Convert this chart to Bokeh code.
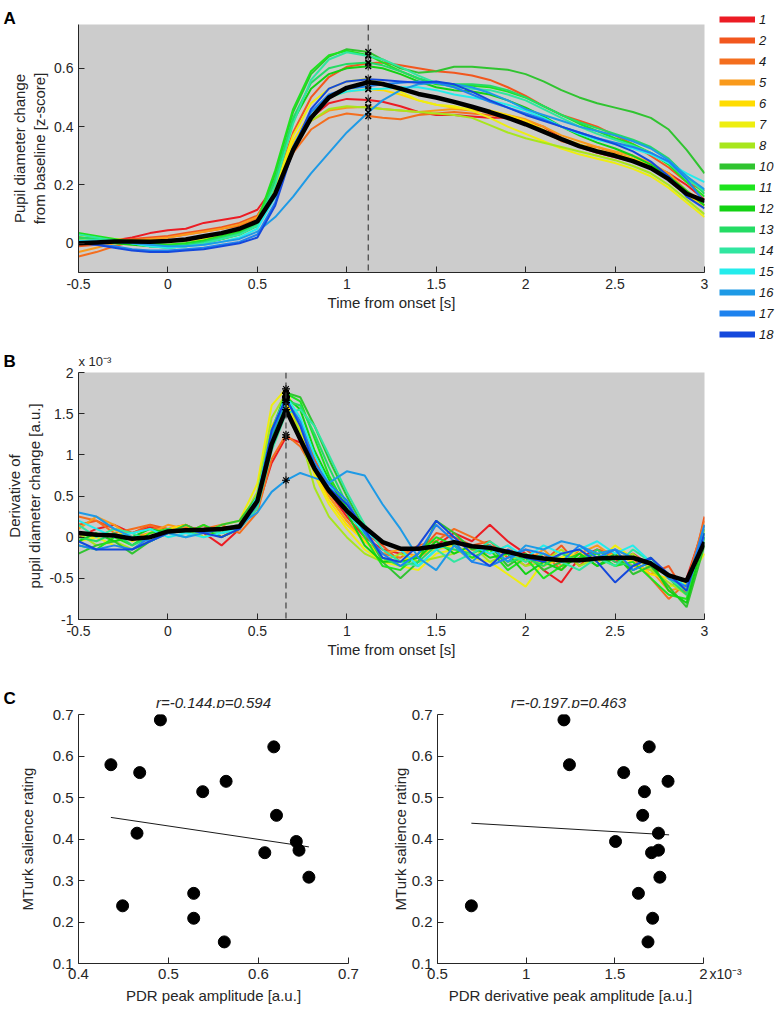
from bokeh.plotting import figure
from bokeh.layouts import column, row
from bokeh.models import (Range1d, FixedTicker, CustomJSTickFormatter, Span, Label,
                          Legend, LegendItem)
from bokeh.embed import file_html
from bokeh.resources import INLINE

FONT = "Liberation Sans"
AXIS = "#262626"

# ---------------- data ----------------
subject_ids = ["1", "2", "4", "5", "6", "7", "8", "10", "11", "12", "13", "14", "15", "16", "17", "18"]
subject_colors = ["#ec1c24", "#f2571e", "#f46e1e", "#f99a1c", "#ffdc00", "#eeee10", "#a8e61c", "#30c430",
                  "#1ee41e", "#12d212", "#24dc64", "#30e6a0", "#24ecec", "#1e9ae6", "#1e82ee", "#1448dc"]

# Panel A: pupil diameter change (z-score)
t_a = [-0.5, -0.4, -0.3, -0.2, -0.1, 0.0, 0.1, 0.2, 0.3, 0.4, 0.5, 0.6, 0.7, 0.8, 0.9, 1.0, 1.12,
       1.2, 1.3, 1.4, 1.5, 1.6, 1.7, 1.8, 1.9, 2.0, 2.1, 2.2, 2.3, 2.4, 2.5, 2.6, 2.7, 2.8, 2.9, 3.0]
a01 = [0.02, 0.015, 0.01, 0.02, 0.035, 0.045, 0.05, 0.07, 0.08, 0.09, 0.115, 0.2, 0.33, 0.43, 0.48, 0.495, 0.491,
       0.485, 0.47, 0.45, 0.44, 0.44, 0.435, 0.43, 0.43, 0.42, 0.40, 0.36, 0.33, 0.31, 0.295, 0.28, 0.265, 0.24, 0.20, 0.15]
a02 = [-0.01, -0.005, 0.005, 0.015, 0.02, 0.025, 0.035, 0.045, 0.055, 0.07, 0.095, 0.2, 0.38, 0.5, 0.57, 0.605, 0.617,
       0.62, 0.61, 0.60, 0.59, 0.585, 0.575, 0.56, 0.535, 0.505, 0.47, 0.44, 0.42, 0.40, 0.37, 0.34, 0.30, 0.26, 0.21, 0.18]
a04 = [-0.045, -0.03, -0.01, 0.005, 0.015, 0.02, 0.03, 0.04, 0.05, 0.06, 0.085, 0.18, 0.31, 0.39, 0.43, 0.445, 0.436,
       0.43, 0.425, 0.44, 0.445, 0.45, 0.445, 0.44, 0.43, 0.41, 0.385, 0.35, 0.335, 0.33, 0.31, 0.29, 0.26, 0.22, 0.17, 0.13]
a05 = [-0.03, -0.015, 0.0, 0.01, 0.015, 0.02, 0.03, 0.04, 0.05, 0.065, 0.09, 0.2, 0.34, 0.42, 0.455, 0.465, 0.468,
       0.46, 0.455, 0.45, 0.455, 0.46, 0.455, 0.45, 0.44, 0.425, 0.40, 0.37, 0.35, 0.33, 0.315, 0.30, 0.275, 0.24, 0.18, 0.14]
a06 = [0.015, 0.015, 0.01, 0.01, 0.01, 0.01, 0.015, 0.025, 0.035, 0.05, 0.075, 0.18, 0.35, 0.45, 0.5, 0.52, 0.528,
       0.525, 0.51, 0.49, 0.475, 0.465, 0.46, 0.455, 0.44, 0.42, 0.39, 0.36, 0.34, 0.32, 0.305, 0.29, 0.265, 0.23, 0.17, 0.12]
a07 = [0.02, 0.02, 0.015, 0.01, 0.005, 0.005, 0.01, 0.015, 0.025, 0.04, 0.065, 0.19, 0.37, 0.48, 0.53, 0.555, 0.564,
       0.55, 0.52, 0.49, 0.475, 0.47, 0.455, 0.43, 0.40, 0.375, 0.35, 0.325, 0.305, 0.29, 0.275, 0.255, 0.23, 0.19, 0.14, 0.09]
a08 = [0.01, 0.01, 0.005, 0.0, -0.005, -0.005, 0.0, 0.01, 0.02, 0.035, 0.06, 0.17, 0.33, 0.42, 0.46, 0.47, 0.465,
       0.46, 0.455, 0.45, 0.445, 0.44, 0.43, 0.405, 0.38, 0.36, 0.345, 0.33, 0.315, 0.30, 0.285, 0.265, 0.24, 0.20, 0.15, 0.10]
a10 = [0.02, 0.015, 0.01, 0.0, -0.01, -0.015, -0.01, 0.0, 0.015, 0.035, 0.07, 0.24, 0.45, 0.58, 0.64, 0.665, 0.656,
       0.63, 0.60, 0.585, 0.59, 0.605, 0.605, 0.60, 0.595, 0.58, 0.555, 0.525, 0.50, 0.48, 0.465, 0.45, 0.43, 0.39, 0.32, 0.24]
a11 = [0.035, 0.025, 0.015, 0.005, 0.0, -0.005, 0.0, 0.01, 0.025, 0.04, 0.075, 0.25, 0.46, 0.59, 0.645, 0.66, 0.645,
       0.62, 0.59, 0.565, 0.545, 0.54, 0.54, 0.535, 0.52, 0.50, 0.47, 0.44, 0.41, 0.385, 0.36, 0.34, 0.31, 0.27, 0.21, 0.16]
a12 = [0.01, 0.005, 0.0, -0.005, -0.01, -0.01, -0.005, 0.005, 0.015, 0.03, 0.06, 0.22, 0.42, 0.53, 0.58, 0.60, 0.607,
       0.60, 0.58, 0.555, 0.535, 0.525, 0.52, 0.51, 0.49, 0.465, 0.435, 0.40, 0.37, 0.345, 0.325, 0.30, 0.27, 0.23, 0.18, 0.13]
a13 = [0.02, 0.015, 0.005, 0.0, -0.01, -0.01, -0.005, 0.005, 0.02, 0.035, 0.065, 0.22, 0.43, 0.55, 0.6, 0.615, 0.620,
       0.61, 0.59, 0.565, 0.55, 0.545, 0.545, 0.54, 0.525, 0.50, 0.47, 0.44, 0.415, 0.395, 0.375, 0.355, 0.33, 0.29, 0.23, 0.17]
a14 = [0.03, 0.02, 0.01, 0.0, -0.01, -0.015, -0.01, 0.0, 0.015, 0.03, 0.06, 0.2, 0.41, 0.56, 0.63, 0.655, 0.642,
       0.63, 0.605, 0.575, 0.55, 0.535, 0.53, 0.525, 0.51, 0.49, 0.46, 0.43, 0.40, 0.375, 0.355, 0.335, 0.31, 0.275, 0.22, 0.18]
a15 = [0.01, 0.01, 0.005, 0.0, -0.01, -0.015, -0.01, -0.005, 0.005, 0.02, 0.05, 0.16, 0.33, 0.45, 0.5, 0.52, 0.528,
       0.53, 0.535, 0.535, 0.525, 0.51, 0.50, 0.49, 0.475, 0.455, 0.43, 0.40, 0.375, 0.355, 0.34, 0.325, 0.305, 0.275, 0.24, 0.21]
a16 = [0.005, 0.005, 0.005, 0.0, -0.005, -0.01, -0.01, -0.005, 0.005, 0.015, 0.04, 0.09, 0.16, 0.24, 0.31, 0.38, 0.449,
       0.49, 0.525, 0.545, 0.55, 0.545, 0.535, 0.515, 0.49, 0.46, 0.44, 0.42, 0.40, 0.385, 0.37, 0.35, 0.325, 0.285, 0.23, 0.185]
a17 = [0.0, -0.005, -0.01, -0.02, -0.025, -0.025, -0.02, -0.015, -0.005, 0.005, 0.03, 0.14, 0.33, 0.45, 0.51, 0.53, 0.538,
       0.545, 0.55, 0.555, 0.55, 0.535, 0.51, 0.485, 0.465, 0.445, 0.425, 0.40, 0.38, 0.36, 0.345, 0.33, 0.31, 0.28, 0.22, 0.14]
a18 = [0.0, -0.005, -0.015, -0.025, -0.03, -0.03, -0.025, -0.02, -0.01, 0.0, 0.02, 0.13, 0.32, 0.46, 0.53, 0.555, 0.562,
       0.56, 0.555, 0.55, 0.555, 0.545, 0.52, 0.49, 0.465, 0.44, 0.42, 0.40, 0.38, 0.36, 0.34, 0.315, 0.28, 0.23, 0.16, 0.12]
mean_a = [0.0, 0.003, 0.006, 0.006, 0.005, 0.008, 0.013, 0.024, 0.035, 0.05, 0.075, 0.17, 0.32, 0.43, 0.50, 0.533, 0.552,
          0.546, 0.53, 0.512, 0.50, 0.485, 0.468, 0.45, 0.43, 0.408, 0.383, 0.357, 0.333, 0.315, 0.30, 0.282, 0.258, 0.22, 0.17, 0.145]
curves_a = [a01, a02, a04, a05, a06, a07, a08, a10, a11, a12, a13, a14, a15, a16, a17, a18]
t_peak_a = 1.12
pdr_peak = [0.491, 0.617, 0.436, 0.468, 0.528, 0.564, 0.465, 0.656, 0.645, 0.607, 0.620, 0.642, 0.528, 0.449, 0.538, 0.562]

# Panel B: derivative of pupil diameter change (x 10^-3 a.u.)
t_b = [-0.5, -0.4, -0.3, -0.2, -0.1, 0.0, 0.1, 0.2, 0.3, 0.4, 0.5, 0.58, 0.66, 0.74, 0.82,
       0.9, 1.0, 1.1, 1.2, 1.3, 1.4, 1.5, 1.6, 1.7, 1.8, 1.9, 2.0, 2.1, 2.2, 2.3, 2.4, 2.5, 2.6, 2.7, 2.8, 2.9, 3.0]
b01 = [0.0, 0.1, 0.15, 0.05, 0.12, 0.1, 0.15, 0.05, -0.1, 0.1, 0.35, 0.9, 1.213, 1.15, 0.85,
       0.55, 0.25, 0.0, -0.15, -0.2, -0.15, -0.1, 0.05, -0.05, 0.15, -0.05, -0.2, -0.4, -0.55, -0.25, -0.15, -0.3, -0.2, -0.35, -0.6, -0.5, 0.15]
b02 = [0.15, 0.2, 0.1, 0.05, 0.15, 0.1, 0.05, 0.15, 0.0, 0.12, 0.4, 1.25, 1.694, 1.4, 0.95,
       0.6, 0.3, 0.05, -0.1, -0.3, -0.2, 0.05, 0.0, -0.1, -0.05, -0.25, -0.15, -0.3, -0.1, -0.35, -0.15, -0.2, -0.3, -0.45, -0.35, -0.7, 0.25]
b04 = [0.25, 0.2, 0.05, 0.1, 0.15, 0.05, 0.12, 0.1, 0.15, 0.05, 0.3, 0.95, 1.244, 1.1, 0.8,
       0.5, 0.2, -0.05, -0.2, -0.25, -0.1, -0.05, 0.1, 0.0, -0.1, -0.2, -0.35, -0.2, -0.4, -0.15, -0.3, -0.15, -0.25, -0.5, -0.75, -0.55, 0.2]
b05 = [0.1, 0.25, 0.15, 0.0, 0.05, 0.15, 0.1, 0.05, 0.1, 0.15, 0.45, 1.2, 1.55, 1.3, 0.85,
       0.5, 0.2, -0.05, -0.2, -0.15, -0.25, -0.1, -0.05, -0.15, -0.2, -0.1, -0.3, -0.15, -0.35, -0.2, -0.1, -0.25, -0.35, -0.4, -0.65, -0.6, 0.1]
b06 = [0.05, 0.0, 0.1, -0.05, 0.05, 0.1, 0.15, 0.0, 0.1, 0.1, 0.5, 1.35, 1.633, 1.3, 0.8,
       0.45, 0.15, -0.05, -0.25, -0.3, -0.2, -0.15, -0.1, -0.2, -0.1, -0.3, -0.2, -0.35, -0.25, -0.2, -0.3, -0.2, -0.3, -0.45, -0.5, -0.65, -0.05]
b07 = [-0.05, 0.0, -0.1, -0.15, 0.0, 0.05, 0.1, 0.05, 0.15, 0.2, 0.65, 1.6, 1.8, 1.35, 0.75,
       0.4, 0.1, -0.15, -0.3, -0.35, -0.4, -0.2, -0.15, -0.25, -0.3, -0.45, -0.6, -0.3, -0.25, -0.15, -0.3, -0.1, -0.25, -0.35, -0.6, -0.55, -0.2]
b08 = [0.05, -0.1, -0.05, -0.15, -0.05, 0.05, 0.1, 0.0, 0.1, 0.15, 0.55, 1.45, 1.746, 1.25, 0.6,
       0.25, 0.0, -0.2, -0.3, -0.2, -0.3, -0.25, -0.2, -0.1, -0.3, -0.2, -0.35, -0.3, -0.15, -0.35, -0.25, -0.35, -0.2, -0.4, -0.55, -0.7, 0.0]
b10 = [-0.2, -0.1, -0.05, -0.2, -0.05, 0.05, 0.15, 0.05, 0.15, 0.2, 0.5, 1.3, 1.754, 1.7, 1.35,
       0.95, 0.5, 0.1, -0.3, -0.5, -0.3, 0.2, 0.05, -0.15, -0.1, -0.35, -0.2, -0.4, -0.3, -0.2, -0.35, -0.2, -0.45, -0.35, -0.6, -0.85, -0.1]
b11 = [-0.1, -0.15, 0.0, -0.1, 0.05, 0.1, 0.05, 0.15, 0.05, 0.15, 0.45, 1.25, 1.746, 1.65, 1.2,
       0.75, 0.35, 0.0, -0.35, -0.4, -0.2, 0.0, -0.1, -0.25, -0.15, -0.4, -0.25, -0.5, -0.35, -0.25, -0.2, -0.35, -0.3, -0.5, -0.7, -0.75, 0.05]
b12 = [-0.05, 0.05, -0.05, 0.0, 0.1, 0.05, 0.1, 0.1, 0.0, 0.1, 0.4, 1.2, 1.707, 1.55, 1.05,
       0.7, 0.3, -0.1, -0.3, -0.3, -0.25, -0.05, -0.2, -0.1, -0.25, -0.2, -0.45, -0.3, -0.4, -0.2, -0.35, -0.25, -0.4, -0.3, -0.65, -0.8, 0.0]
b13 = [0.0, -0.05, 0.05, -0.1, 0.0, 0.1, 0.05, 0.1, 0.05, 0.12, 0.4, 1.15, 1.657, 1.6, 1.25,
       0.85, 0.4, 0.05, -0.25, -0.35, -0.3, -0.1, -0.15, -0.2, -0.1, -0.3, -0.25, -0.35, -0.2, -0.3, -0.15, -0.3, -0.35, -0.25, -0.5, -0.7, 0.1]
b14 = [0.15, 0.0, 0.1, 0.05, -0.05, 0.05, 0.0, 0.1, 0.05, 0.1, 0.35, 1.05, 1.504, 1.55, 1.35,
       1.0, 0.55, 0.15, -0.15, -0.3, -0.35, -0.15, -0.3, -0.2, -0.05, -0.2, -0.3, -0.2, -0.3, -0.4, -0.25, -0.35, -0.15, -0.3, -0.5, -0.65, 0.15]
b15 = [0.2, 0.1, 0.0, 0.05, 0.1, 0.0, 0.05, 0.0, 0.05, 0.1, 0.5, 1.3, 1.713, 1.45, 1.0,
       0.65, 0.3, 0.05, -0.05, -0.15, -0.35, -0.15, -0.05, -0.1, -0.2, -0.1, -0.25, -0.1, -0.2, -0.15, -0.05, -0.2, -0.1, -0.3, -0.45, -0.6, -0.05]
b16 = [0.3, 0.25, 0.1, 0.0, -0.05, 0.05, 0.0, 0.05, 0.1, 0.15, 0.3, 0.55, 0.691, 0.78, 0.72,
       0.66, 0.8, 0.75, 0.4, 0.1, -0.25, -0.4, -0.1, -0.3, -0.1, -0.3, -0.1, -0.15, -0.05, -0.1, -0.2, -0.15, -0.25, -0.3, -0.45, -0.55, 0.0]
b17 = [-0.1, -0.15, -0.1, -0.15, 0.0, 0.05, 0.1, 0.05, 0.1, 0.1, 0.4, 1.25, 1.667, 1.4, 0.9,
       0.65, 0.45, 0.05, -0.2, -0.35, -0.2, 0.15, -0.05, -0.3, -0.35, -0.25, -0.15, -0.2, -0.3, -0.1, -0.25, -0.15, -0.4, -0.3, -0.5, -0.6, 0.15]
b18 = [-0.05, -0.15, -0.15, -0.15, -0.05, 0.05, 0.1, 0.05, 0.0, 0.1, 0.45, 1.3, 1.687, 1.35, 0.85,
       0.6, 0.4, 0.1, -0.25, -0.3, -0.1, 0.2, 0.0, -0.2, -0.35, -0.15, -0.25, -0.3, -0.2, -0.15, -0.3, -0.55, -0.35, -0.25, -0.45, -0.65, 0.05]
mean_b = [0.05, 0.03, 0.02, -0.02, 0.0, 0.07, 0.085, 0.09, 0.10, 0.13, 0.44, 1.13, 1.55, 1.19, 0.83,
          0.565, 0.32, 0.12, -0.06, -0.14, -0.14, -0.11, -0.06, -0.11, -0.13, -0.18, -0.23, -0.26, -0.28, -0.28, -0.26, -0.25, -0.25, -0.32, -0.465, -0.53, -0.06]
curves_b = [b01, b02, b04, b05, b06, b07, b08, b10, b11, b12, b13, b14, b15, b16, b17, b18]
t_peak_b = 0.66
pdr_deriv_peak = [1.213, 1.694, 1.244, 1.550, 1.633, 1.800, 1.746, 1.754, 1.746, 1.707, 1.657, 1.504, 1.713, 0.691, 1.667, 1.687]

# Panel C: salience ratings and fitted lines
salience = [0.687, 0.622, 0.579, 0.560, 0.269, 0.539, 0.414, 0.308, 0.373, 0.367, 0.457, 0.394, 0.209, 0.239, 0.514, 0.152]
fit_left_x = [0.436, 0.656]
fit_left_y = [0.452, 0.381]
fit_right_x = [0.691, 1.806]
fit_right_y = [0.438, 0.410]
title_left = "r=-0.144,p=0.594"
title_right = "r=-0.197,p=0.463"

assert all(len(c) == len(t_a) for c in curves_a + [mean_a])
assert all(len(c) == len(t_b) for c in curves_b + [mean_b])

# ---------------- helpers ----------------
FMT = "return tick.toString();"


def style(p, bg, tick_size, xstand=(6, 2)):
    p.background_fill_color = bg
    p.border_fill_color = "white"
    p.outline_line_color = None
    p.xgrid.visible = False
    p.ygrid.visible = False
    for ax in (p.xaxis[0], p.yaxis[0]):
        ax.axis_line_color = AXIS
        ax.axis_line_width = 1
        ax.major_tick_line_color = AXIS
        ax.major_tick_in = 6
        ax.major_tick_out = 0
        ax.minor_tick_line_color = None
        ax.major_label_text_font = FONT
        ax.major_label_text_font_size = tick_size
        ax.major_label_text_color = AXIS
        ax.axis_label_text_font = FONT
        ax.axis_label_text_font_style = "normal"
        ax.axis_label_text_font_size = "15px"
        ax.axis_label_text_color = AXIS
        ax.formatter = CustomJSTickFormatter(code=FMT)
    p.xaxis[0].major_label_standoff = xstand[0]
    p.xaxis[0].axis_label_standoff = xstand[1]
    p.yaxis[0].major_label_standoff = 5
    p.yaxis[0].axis_label_standoff = 3


def strip(w, h):
    s = figure(width=w, height=h, x_range=Range1d(0, w), y_range=Range1d(0, h),
               x_axis_type=None, y_axis_type=None, title=None, output_backend="svg",
               toolbar_location=None, min_border=0, frame_align=False)
    s.outline_line_color = None
    s.background_fill_color = "white"
    s.border_fill_color = "white"
    s.xgrid.visible = False
    s.ygrid.visible = False
    return s


def text(s, x, y, t, size, style_="normal", align="left", color=AXIS):
    s.add_layout(Label(x=x, y=y, text=t, text_font=FONT, text_font_style=style_,
                       text_font_size=size, text_color=color, text_align=align,
                       text_baseline="alphabetic"))


# ---------------- Panel A ----------------
stripA = strip(710, 24)
text(stripA, 3, 6, "A", "17px", "bold", color="black")

pA = figure(width=710, height=321, x_range=Range1d(-0.5, 3.0), y_range=Range1d(-0.1, 0.75),
            output_backend="svg", toolbar_location=None, title=None, frame_align=False,
            min_border_left=78, min_border_right=6, min_border_top=0, min_border_bottom=73)
style(pA, "#cccccc", "14px")
pA.xaxis.ticker = FixedTicker(ticks=[-0.5, 0, 0.5, 1, 1.5, 2, 2.5, 3])
pA.yaxis.ticker = FixedTicker(ticks=[0, 0.2, 0.4, 0.6])
pA.xaxis.axis_label = "Time from onset [s]"
pA.yaxis.axis_label = "Pupil diameter change\nfrom baseline [z-score]"
for ys, c in zip(curves_a, subject_colors):
    pA.line(t_a, ys, line_color=c, line_width=2)
pA.line(t_a, mean_a, line_color="black", line_width=4.5)
pA.add_layout(Span(location=t_peak_a, dimension="height", line_color="#404040",
                   line_dash="6 4", line_width=1.2))
pA.scatter([t_peak_a] * len(pdr_peak), pdr_peak, marker="x", size=8, line_color="black", line_width=1.4)

pLeg = figure(width=65, height=345, x_range=Range1d(0, 1), y_range=Range1d(0, 1),
              x_axis_type=None, y_axis_type=None, title=None, output_backend="svg",
              toolbar_location=None, min_border=0, frame_align=False)
pLeg.outline_line_color = None
pLeg.xgrid.visible = False
pLeg.ygrid.visible = False
items = []
for s, c in zip(subject_ids, subject_colors):
    # swatch-only renderers: their points lie outside the visible range
    r = pLeg.line(x=[-10, -9], y=[-10, -9], line_color=c, line_width=6)
    items.append(LegendItem(label=s, renderers=[r]))
legend = Legend(items=items, location=(9, 3), orientation="vertical", glyph_width=36,
                glyph_height=16, label_height=16, spacing=5, padding=0, margin=0, label_standoff=4,
                border_line_color=None, background_fill_alpha=0, label_text_font=FONT,
                label_text_font_style="italic", label_text_font_size="13px", label_text_color="#1a1a1a")
pLeg.add_layout(legend)

# ---------------- Panel B ----------------
stripB = strip(775, 22)
text(stripB, 3, 6, "B", "17px", "bold", color="black")
text(stripB, 78, 6, "x 10\u207b\u00b3", "13px")

pB = figure(width=775, height=313, x_range=Range1d(-0.5, 3.0), y_range=Range1d(-1.0, 2.0),
            output_backend="svg", toolbar_location=None, title=None, frame_align=False,
            min_border_left=78, min_border_right=71, min_border_top=5, min_border_bottom=61)
style(pB, "#cccccc", "14px")
pB.xaxis.ticker = FixedTicker(ticks=[-0.5, 0, 0.5, 1, 1.5, 2, 2.5, 3])
pB.yaxis.ticker = FixedTicker(ticks=[-1, -0.5, 0, 0.5, 1, 1.5, 2])
pB.xaxis.axis_label = "Time from onset [s]"
pB.yaxis.axis_label = "Derivative of\npupil diameter change [a.u.]"
for ys, c in zip(curves_b, subject_colors):
    pB.line(t_b, ys, line_color=c, line_width=2)
pB.line(t_b, mean_b, line_color="black", line_width=4.5)
pB.add_layout(Span(location=t_peak_b, dimension="height", line_color="#404040",
                   line_dash="6 4", line_width=1.2))
pB.scatter([t_peak_b] * len(pdr_deriv_peak), pdr_deriv_peak, marker="asterisk", size=8,
           line_color="black", line_width=1.2)

# ---------------- Panel C ----------------
stripC = strip(775, 28)
text(stripC, 3, 10, "C", "17px", "bold", color="black")
text(stripC, 213, 6, title_left, "15px", "italic", align="center")
text(stripC, 568, 6, title_right, "15px", "italic", align="center")

pC1 = figure(width=388, height=304, x_range=Range1d(0.4, 0.7), y_range=Range1d(0.1, 0.7),
             output_backend="svg", toolbar_location=None, title=None, frame_align=False,
             min_border_left=78, min_border_right=40, min_border_top=6, min_border_bottom=49)
style(pC1, "white", "15px", xstand=(5, 5))
pC1.xaxis.ticker = FixedTicker(ticks=[0.4, 0.5, 0.6, 0.7])
pC1.yaxis.ticker = FixedTicker(ticks=[0.1, 0.2, 0.3, 0.4, 0.5, 0.6, 0.7])
pC1.xaxis.axis_label = "PDR peak amplitude [a.u.]"
pC1.yaxis.axis_label = "MTurk salience rating"
pC1.yaxis.axis_label_standoff = 14
pC1.line(fit_left_x, fit_left_y, line_color="#1a1a1a", line_width=1)
pC1.scatter(pdr_peak, salience, size=12, fill_color="black", line_color="black")

pC2 = figure(width=320, height=304, x_range=Range1d(0.5, 2.0), y_range=Range1d(0.1, 0.7),
             output_backend="svg", toolbar_location=None, title=None, frame_align=False,
             min_border_left=45, min_border_right=5, min_border_top=6, min_border_bottom=49)
style(pC2, "white", "15px", xstand=(5, 5))
pC2.xaxis.ticker = FixedTicker(ticks=[0.5, 1, 1.5, 2])
pC2.yaxis.ticker = FixedTicker(ticks=[0.1, 0.2, 0.3, 0.4, 0.5, 0.6, 0.7])
pC2.xaxis.axis_label = "PDR derivative peak amplitude [a.u.]"
pC2.yaxis.axis_label = "MTurk salience rating"
pC2.yaxis.axis_label_standoff = 0
pC2.line(fit_right_x, fit_right_y, line_color="#1a1a1a", line_width=1)
pC2.scatter(pdr_deriv_peak, salience, size=12, fill_color="black", line_color="black")

stripR = strip(67, 304)
text(stripR, 1, 39, "x10\u207b\u00b3", "14px")

layout = column(
    row(column(stripA, pA), pLeg),
    stripB,
    pB,
    stripC,
    row(pC1, pC2, stripR),
)
open("out.html", "w").write(file_html(layout, INLINE))
